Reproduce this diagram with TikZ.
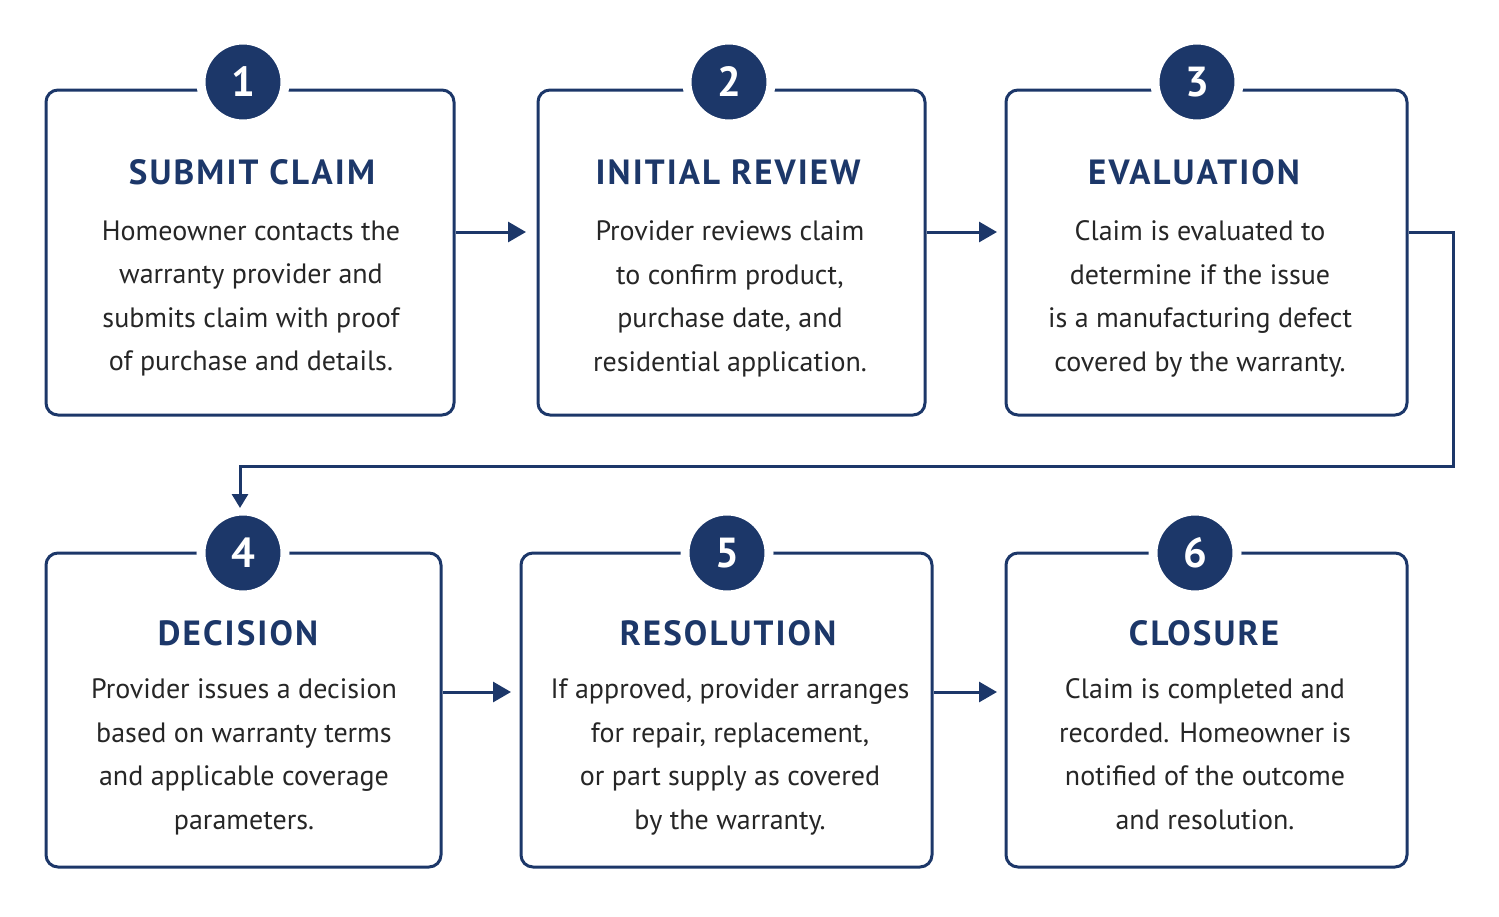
\documentclass[tikz,border=0pt]{standalone}
\usepackage{fontspec}
\setmainfont{PT Sans}
\usetikzlibrary{positioning,arrows.meta}
\definecolor{navy}{RGB}{28,55,105}
\tikzset{every picture/.style={line width=3pt}}
\tikzset{
  stepbox/.style={draw=navy,rounded corners=12pt,line width=3pt},
  badge/.style={circle,fill=navy,draw=white,line width=9pt,minimum size=84pt,inner sep=0pt,text=white,font=\fontsize{42}{42}\selectfont\bfseries},
  steptitle/.style={text=navy,font=\fontsize{35}{35}\selectfont\bfseries\addfontfeature{LetterSpace=6}},
  stepbody/.style={text=black!85,align=center,font=\fontsize{28}{43.5}\selectfont},
  flow/.style={draw=navy,line width=3pt,-{Triangle[length=18pt,width=20pt]}}
}
\begin{document}
\begin{tikzpicture}[x=1pt,y=1pt,yscale=-1,xscale=1]
	\useasboundingbox (0,0) rectangle (1499,916);
	
	%Boxes, top row
	\draw[stepbox] (46,90) rectangle (454,415) ;
	\draw[stepbox] (538,90) rectangle (925,415) ;
	\draw[stepbox] (1006,90) rectangle (1407,415) ;
	%Boxes, bottom row
	\draw[stepbox] (46,553) rectangle (441,867) ;
	\draw[stepbox] (521,553) rectangle (932,867) ;
	\draw[stepbox] (1006,553) rectangle (1407,867) ;
	
	%Number badges
	\node[badge] (n1) at (243,82) {1};
	\node[badge] (n2) at (729,82) {2};
	\node[badge] (n3) at (1197,82) {3};
	\node[badge] (n4) at (243,553) {4};
	\node[badge] (n5) at (727,553) {5};
	\node[badge] (n6) at (1195,553) {6};
	
	% Text Node
	\node[steptitle] (t1) at (252,172) {SUBMIT CLAIM};
	\node[steptitle] (t2) at (728,172) {INITIAL REVIEW};
	\node[steptitle] (t3) at (1194,172) {EVALUATION};
	\node[steptitle] (t4) at (238,633) {DECISION};
	\node[steptitle] (t5) at (728,633) {RESOLUTION};
	\node[steptitle] (t6) at (1204,633) {CLOSURE};
	
	% Text Node
	\node[stepbody,anchor=north] (d1) at (251,216) {Homeowner contacts the\\warranty provider and\\submits claim with proof\\of purchase and details.};
	\node[stepbody,anchor=north] (d2) at (730,216) {Provider reviews claim\\to confirm product,\\purchase date, and\\residential application.};
	\node[stepbody,anchor=north] (d3) at (1200,216) {Claim is evaluated to\\determine if the issue\\is a manufacturing defect\\covered by the warranty.};
	\node[stepbody,anchor=north] (d4) at (244,674) {Provider issues a decision\\based on warranty terms\\and applicable coverage\\parameters.};
	\node[stepbody,anchor=north] (d5) at (730,674) {If approved, provider arranges\\for repair, replacement,\\or part supply as covered\\by the warranty.};
	\node[stepbody,anchor=north] (d6) at (1205,674) {Claim is completed and\\recorded. Homeowner is\\notified of the outcome\\and resolution.};
	
	%Connectors
	\coordinate (a1) at (456,232); \coordinate (a2) at (526,232);
	\coordinate (a3) at (927,232); \coordinate (a4) at (997,232);
	\coordinate (a5) at (443,692); \coordinate (a6) at (511,692);
	\coordinate (a7) at (934,692); \coordinate (a8) at (997,692);
	\coordinate (r1) at (1409,232); \coordinate (r2) at (1453,466);
	\coordinate (r3) at (240,508);
	\draw[flow] (a1) -- (a2) ;
	\draw[flow] (a3) -- (a4) ;
	\draw[flow] (a5) -- (a6) ;
	\draw[flow] (a7) -- (a8) ;
	\draw[flow,{Triangle[length=14pt,width=16pt]}-] (r3) |- (r2) |- (r1) ;
	
\end{tikzpicture}
\end{document}
